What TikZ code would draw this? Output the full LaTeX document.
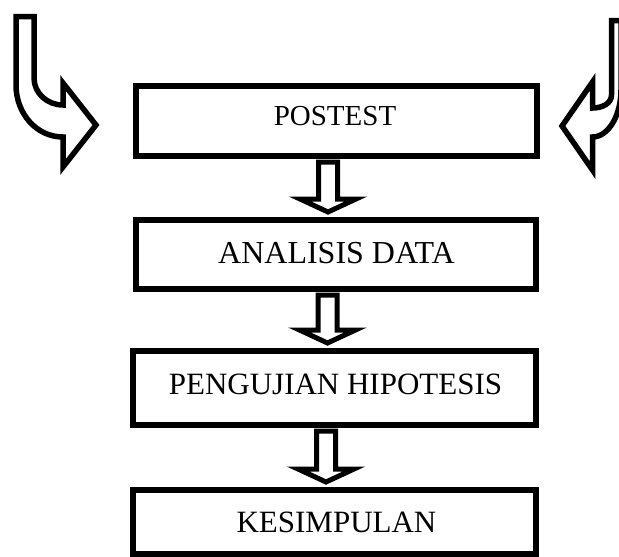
\documentclass[tikz,border=0pt]{standalone}
\usepackage{fontspec}
\setmainfont{Liberation Serif}
\usetikzlibrary{calc}

\tikzset{
  stagebox/.style={draw, line width=6pt, rectangle, inner sep=0pt, outer sep=0pt},
  stagetext/.style={anchor=base, inner sep=0pt},
  hollowarrow/.style={draw, line width=5pt, fill=white},
  bentarrow/.style={draw, line width=5.5pt, fill=white},
}

% hollow block arrow pointing down, from the bottom of #1 to the top of #2
\newcommand\hollowdown[2]{%
  \path[hollowarrow] let \p1=(#1.south), \p2=(#2.north) in
    (\x1-18pt,\y1-6pt) -- (\x1-18pt,\y2+21pt) -- (\x1-36.5pt,\y2+21pt)
    -- (\x1-8.5pt,\y2+8pt) -- (\x1+19.5pt,\y2+21pt) -- (\x1+1pt,\y2+21pt)
    -- (\x1+1pt,\y1-6pt) -- cycle;}

\begin{document}
\begin{tikzpicture}[x=1pt,y=-1pt]
  \useasboundingbox (0,0) rectangle (619,557);
  \clip (0,0) rectangle (619,557);

  % stages
  \node[stagebox, minimum width=401pt, minimum height=70pt] (p1) at (336.5,121) {};
  \node[stagebox, minimum width=400pt, minimum height=69pt] (p2) at (336,254.5) {};
  \node[stagebox, minimum width=403pt, minimum height=74pt] (p3) at (334.5,388) {};
  \node[stagebox, minimum width=403pt, minimum height=64pt] (p4) at (334.5,522) {};

  \node[stagetext, font=\fontsize{29}{34}\selectfont] (t1) at (335,125.7) {POSTEST};
  \node[stagetext, font=\fontsize{32}{38}\selectfont] (t2) at (336.5,263.3) {ANALISIS DATA};
  \node[stagetext, font=\fontsize{31}{37}\selectfont] (t3) at (335.5,394) {PENGUJIAN HIPOTESIS};
  \node[stagetext, font=\fontsize{31}{37}\selectfont] (t4) at (336.5,532) {KESIMPULAN};

  % arrows between stages
  \hollowdown{p1}{p2}
  \hollowdown{p2}{p3}
  \hollowdown{p3}{p4}

  % bent arrow entering from the upper left
  \path[bentarrow] (16,16.5) -- (34,16.5) -- (34,78)
    .. controls (34,93) and (47,105) .. (63,105)
    -- (63,83) -- (96,125) -- (63,167) -- (63,137)
    .. controls (36,137) and (16,113) .. (16,85) -- cycle;

  % bent arrow entering from the upper right
  \path[bentarrow] (611.5,20.5) -- (621,20.5) -- (621,90)
    .. controls (621,116) and (608,137) .. (592.5,137)
    -- (592.5,170) -- (562,126) -- (592.5,82) -- (592.5,108)
    .. controls (603,108) and (611.5,103) .. (611.5,95) -- cycle;
\end{tikzpicture}
\end{document}
